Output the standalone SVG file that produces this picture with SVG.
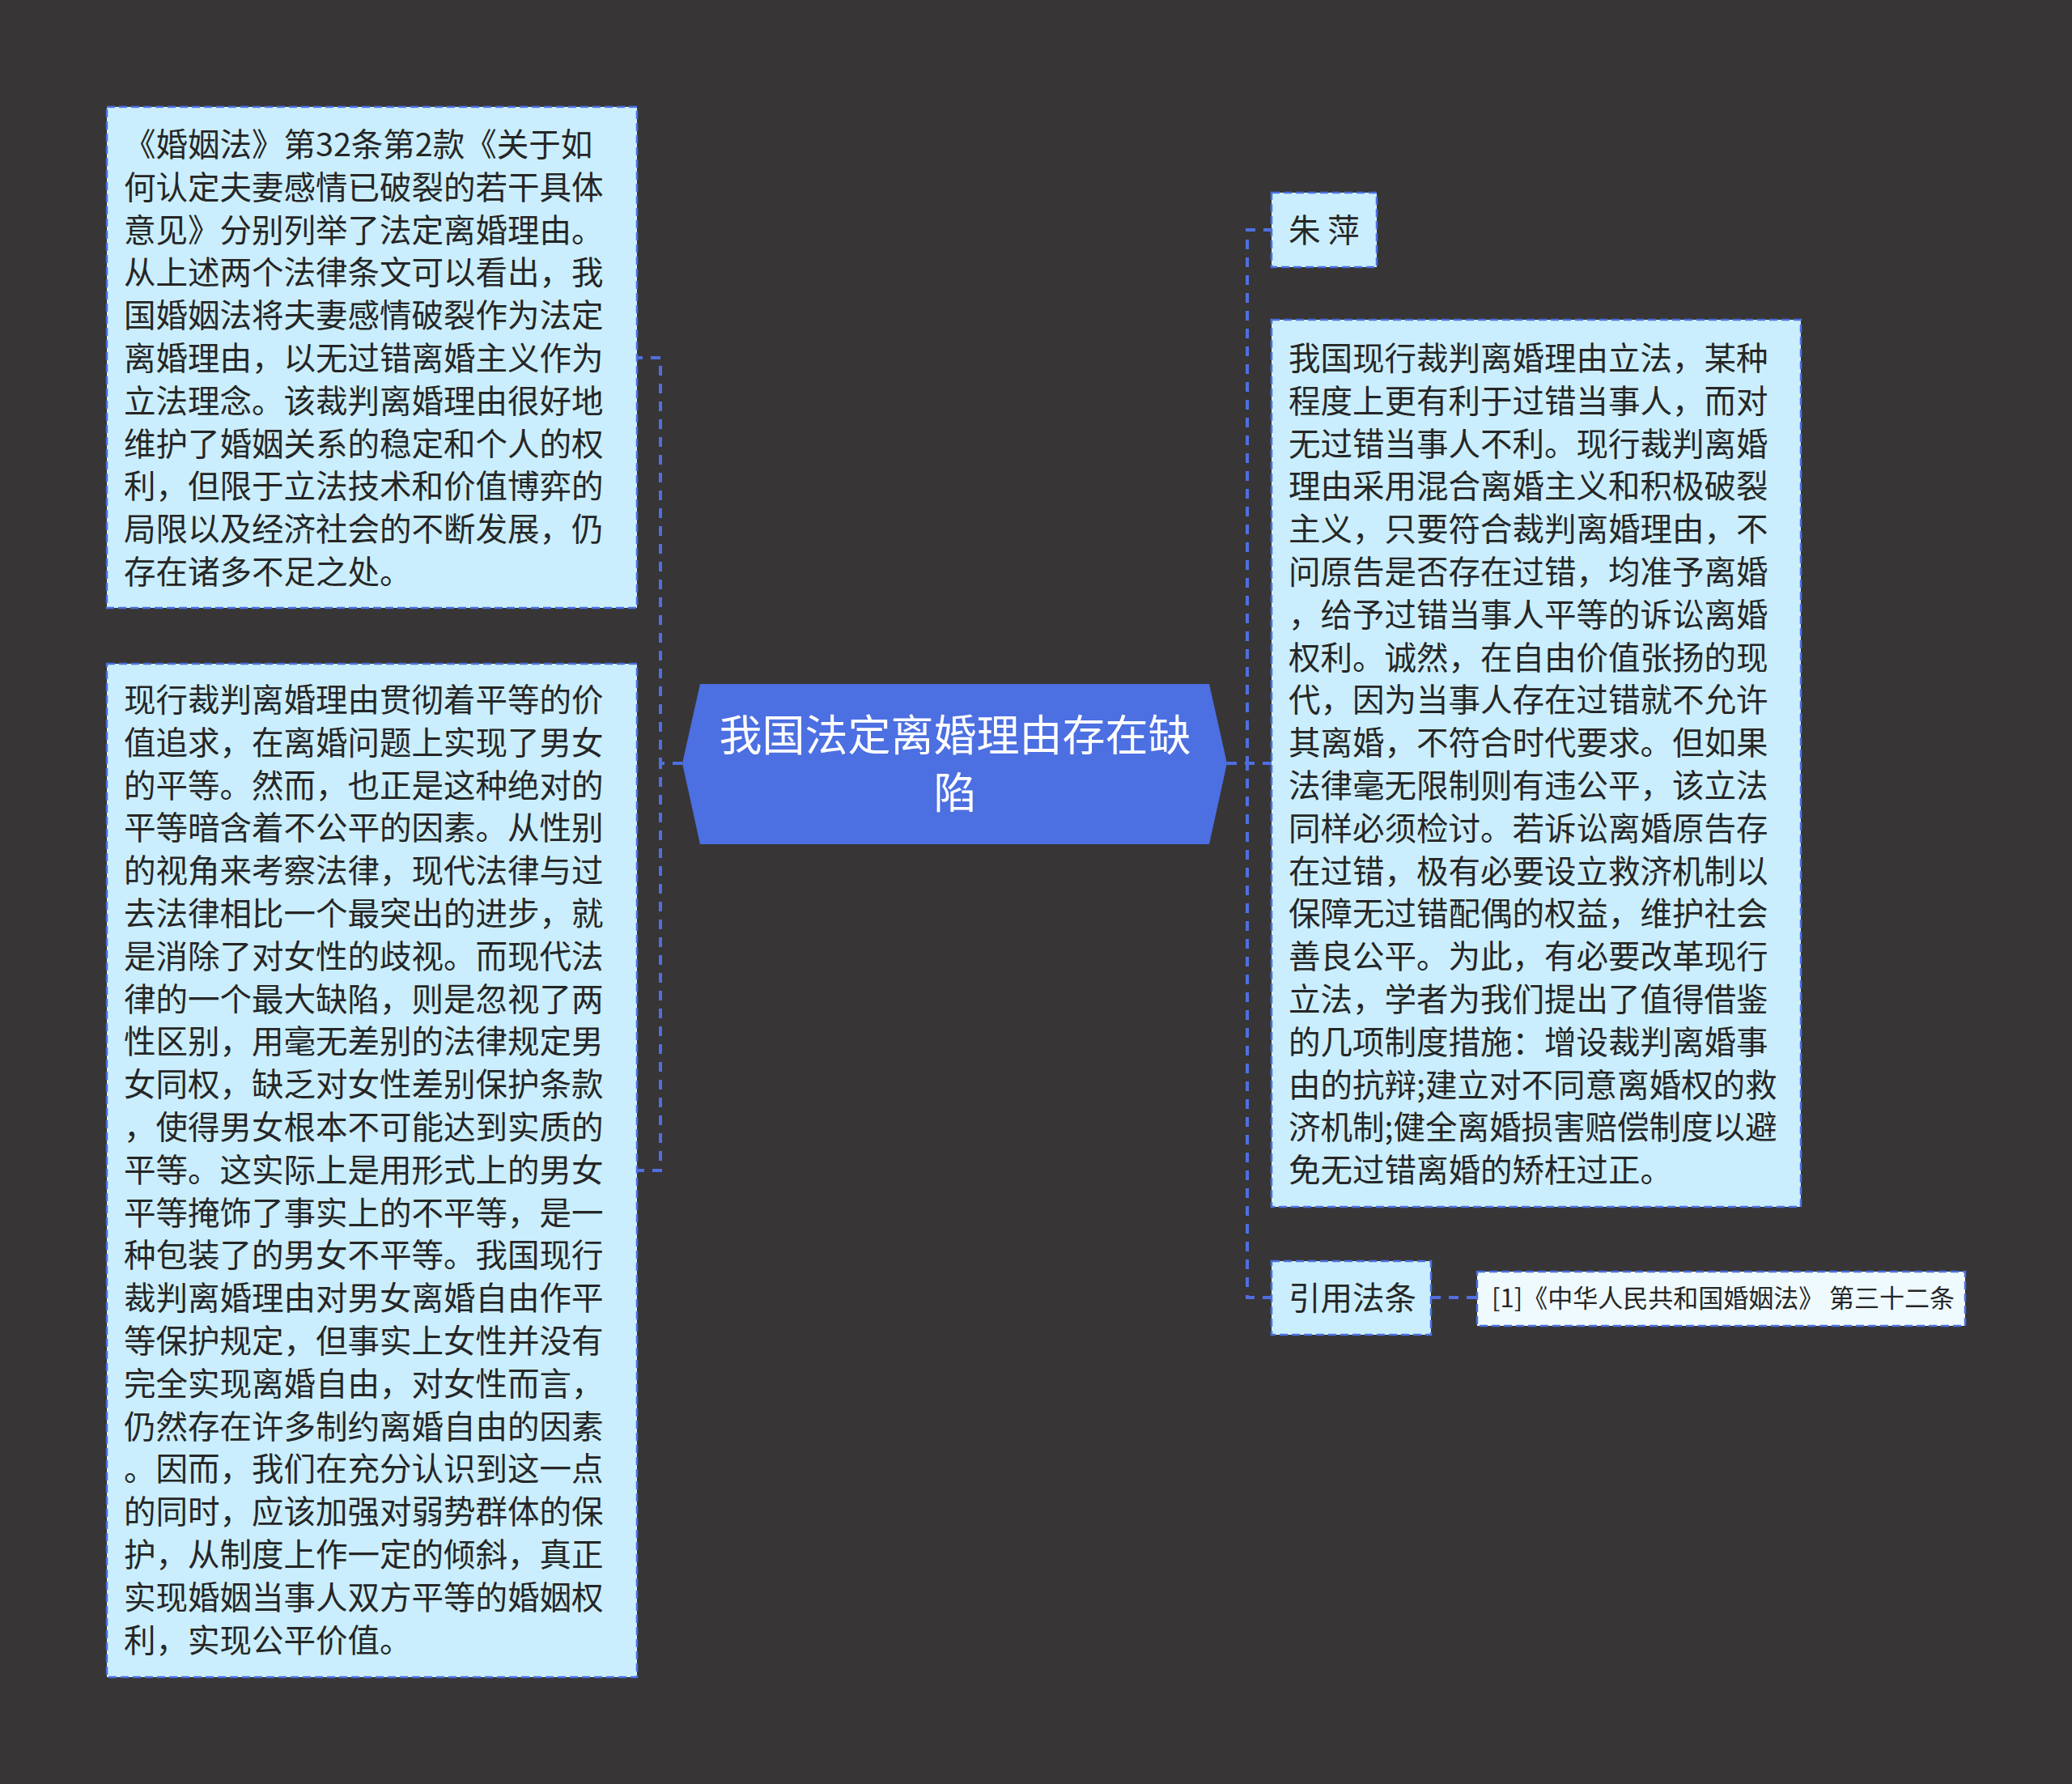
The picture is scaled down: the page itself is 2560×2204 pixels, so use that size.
<svg xmlns="http://www.w3.org/2000/svg" width="2560" height="2204" viewBox="0 0 2560 2204">
<style>
.bg{fill:#373536}
.box{fill:#CAEEFD;stroke:#4A6FE0;stroke-width:2.5;stroke-dasharray:10,5}
.ref{fill:#EFFAFE;stroke:#4A6FE0;stroke-width:2.5;stroke-dasharray:10,5}
.t{font-family:"Noto Sans CJK SC","Noto Sans",sans-serif;font-size:39.5px;fill:#262626}
.small{font-family:"Noto Sans CJK SC","Noto Sans",sans-serif;font-size:31px;fill:#262626}
.title{font-family:"Noto Sans CJK SC","Noto Sans",sans-serif;font-size:53px;fill:#ffffff;text-anchor:middle}
.conn{fill:none;stroke:#4F6FE0;stroke-width:4;stroke-dasharray:12,10}
</style>
<rect class="bg" x="0" y="0" width="2560" height="2204"/>
<g id="connectors">
<path class="conn" d="M843,943 H816 V442 H787"/>
<path class="conn" d="M843,943 H816 V1446 H787"/>
<path class="conn" d="M1516,943 H1541 V284 H1571"/>
<path class="conn" d="M1516,943 H1571"/>
<path class="conn" d="M1516,943 H1541 V1603 H1571"/>
<path class="conn" d="M1768,1603 H1825"/>
</g>
<g id="root">
<polygon points="843,943 865,845 1494,845 1516,943 1494,1043 865,1043" fill="#4C6FE1"/>
<text class="title"><tspan x="1180" y="928">我国法定离婚理由存在缺</tspan><tspan x="1180" y="999">陷</tspan></text>
</g>
<g id="node-left-top">
<rect class="box" x="132" y="132" width="655" height="619"/>
<text class="t">
<tspan x="153" y="193">《婚姻法》第32条第2款《关于如</tspan>
<tspan x="153" dy="52.8">何认定夫妻感情已破裂的若干具体</tspan>
<tspan x="153" dy="52.8">意见》分别列举了法定离婚理由。</tspan>
<tspan x="153" dy="52.8">从上述两个法律条文可以看出，我</tspan>
<tspan x="153" dy="52.8">国婚姻法将夫妻感情破裂作为法定</tspan>
<tspan x="153" dy="52.8">离婚理由，以无过错离婚主义作为</tspan>
<tspan x="153" dy="52.8">立法理念。该裁判离婚理由很好地</tspan>
<tspan x="153" dy="52.8">维护了婚姻关系的稳定和个人的权</tspan>
<tspan x="153" dy="52.8">利，但限于立法技术和价值博弈的</tspan>
<tspan x="153" dy="52.8">局限以及经济社会的不断发展，仍</tspan>
<tspan x="153" dy="52.8">存在诸多不足之处。</tspan>
</text>
</g>
<g id="node-left-bottom">
<rect class="box" x="132" y="820" width="655" height="1252"/>
<text class="t">
<tspan x="153" y="879">现行裁判离婚理由贯彻着平等的价</tspan>
<tspan x="153" dy="52.8">值追求，在离婚问题上实现了男女</tspan>
<tspan x="153" dy="52.8">的平等。然而，也正是这种绝对的</tspan>
<tspan x="153" dy="52.8">平等暗含着不公平的因素。从性别</tspan>
<tspan x="153" dy="52.8">的视角来考察法律，现代法律与过</tspan>
<tspan x="153" dy="52.8">去法律相比一个最突出的进步，就</tspan>
<tspan x="153" dy="52.8">是消除了对女性的歧视。而现代法</tspan>
<tspan x="153" dy="52.8">律的一个最大缺陷，则是忽视了两</tspan>
<tspan x="153" dy="52.8">性区别，用毫无差别的法律规定男</tspan>
<tspan x="153" dy="52.8">女同权，缺乏对女性差别保护条款</tspan>
<tspan x="153" dy="52.8">，使得男女根本不可能达到实质的</tspan>
<tspan x="153" dy="52.8">平等。这实际上是用形式上的男女</tspan>
<tspan x="153" dy="52.8">平等掩饰了事实上的不平等，是一</tspan>
<tspan x="153" dy="52.8">种包装了的男女不平等。我国现行</tspan>
<tspan x="153" dy="52.8">裁判离婚理由对男女离婚自由作平</tspan>
<tspan x="153" dy="52.8">等保护规定，但事实上女性并没有</tspan>
<tspan x="153" dy="52.8">完全实现离婚自由，对女性而言，</tspan>
<tspan x="153" dy="52.8">仍然存在许多制约离婚自由的因素</tspan>
<tspan x="153" dy="52.8">。因而，我们在充分认识到这一点</tspan>
<tspan x="153" dy="52.8">的同时，应该加强对弱势群体的保</tspan>
<tspan x="153" dy="52.8">护，从制度上作一定的倾斜，真正</tspan>
<tspan x="153" dy="52.8">实现婚姻当事人双方平等的婚姻权</tspan>
<tspan x="153" dy="52.8">利，实现公平价值。</tspan>
</text>
</g>
<g id="node-author">
<rect class="box" x="1571" y="238" width="130" height="92"/>
<text class="t" x="1592" y="299">朱 萍</text>
</g>
<g id="node-right">
<rect class="box" x="1571" y="395" width="654" height="1096"/>
<text class="t">
<tspan x="1592" y="457">我国现行裁判离婚理由立法，某种</tspan>
<tspan x="1592" dy="52.8">程度上更有利于过错当事人，而对</tspan>
<tspan x="1592" dy="52.8">无过错当事人不利。现行裁判离婚</tspan>
<tspan x="1592" dy="52.8">理由采用混合离婚主义和积极破裂</tspan>
<tspan x="1592" dy="52.8">主义，只要符合裁判离婚理由，不</tspan>
<tspan x="1592" dy="52.8">问原告是否存在过错，均准予离婚</tspan>
<tspan x="1592" dy="52.8">，给予过错当事人平等的诉讼离婚</tspan>
<tspan x="1592" dy="52.8">权利。诚然，在自由价值张扬的现</tspan>
<tspan x="1592" dy="52.8">代，因为当事人存在过错就不允许</tspan>
<tspan x="1592" dy="52.8">其离婚，不符合时代要求。但如果</tspan>
<tspan x="1592" dy="52.8">法律毫无限制则有违公平，该立法</tspan>
<tspan x="1592" dy="52.8">同样必须检讨。若诉讼离婚原告存</tspan>
<tspan x="1592" dy="52.8">在过错，极有必要设立救济机制以</tspan>
<tspan x="1592" dy="52.8">保障无过错配偶的权益，维护社会</tspan>
<tspan x="1592" dy="52.8">善良公平。为此，有必要改革现行</tspan>
<tspan x="1592" dy="52.8">立法，学者为我们提出了值得借鉴</tspan>
<tspan x="1592" dy="52.8">的几项制度措施：增设裁判离婚事</tspan>
<tspan x="1592" dy="52.8">由的抗辩;建立对不同意离婚权的救</tspan>
<tspan x="1592" dy="52.8">济机制;健全离婚损害赔偿制度以避</tspan>
<tspan x="1592" dy="52.8">免无过错离婚的矫枉过正。</tspan>
</text>
</g>
<g id="node-cite">
<rect class="box" x="1571" y="1558" width="197" height="91"/>
<text class="t" x="1592" y="1618">引用法条</text>
</g>
<g id="node-ref">
<rect class="ref" x="1825" y="1571" width="603" height="67"/>
<text class="small" x="1843" y="1615">[1]《中华人民共和国婚姻法》 第三十二条</text>
</g>
</svg>
